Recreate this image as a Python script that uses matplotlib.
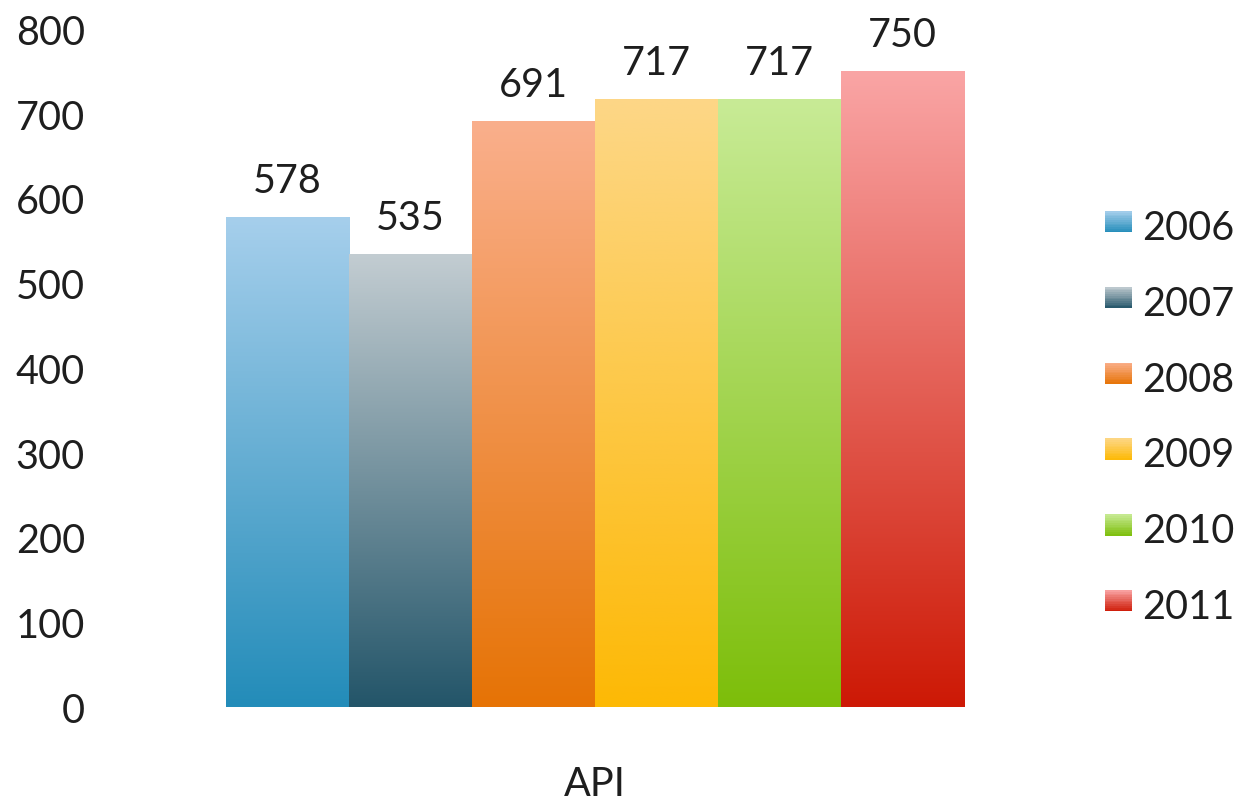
import numpy as np
import matplotlib
matplotlib.use("Agg")
import matplotlib.pyplot as plt
from matplotlib.colors import LinearSegmentedColormap, to_rgb
from matplotlib.legend_handler import HandlerBase
from matplotlib.patches import Rectangle

# Data
category = "API"
years = ["2006", "2007", "2008", "2009", "2010", "2011"]
values = [578, 535, 691, 717, 717, 750]

# Gradient end colours for each year: (top, bottom)
top_colors = ["#a6cfec", "#c3cdd2", "#faaf8c", "#fdd787", "#c8eb96", "#faa5a5"]
bottom_colors = ["#238cb9", "#235569", "#e67305", "#fdb905", "#7dbe0a", "#cd1905"]

y_ticks = [0, 100, 200, 300, 400, 500, 600, 700, 800]

plt.rcParams["font.family"] = ["Lato", "DejaVu Sans"]
text_color = "#1e1e1e"
fs = 28.5

fig = plt.figure(figsize=(12.46, 8.03), dpi=100)
ax = fig.add_axes([110 / 1246, 1 - 708 / 803, 950 / 1246, 678 / 803])

n = len(years)
width = 1.0
offsets = (np.arange(n) - (n - 1) / 2) * width

bars = ax.bar(offsets, values, width=width, color="none", edgecolor="none")


def gradient_cmap(top, bottom):
    return LinearSegmentedColormap.from_list("g", [to_rgb(bottom), to_rgb(top)])


grad = np.linspace(0, 1, 256).reshape(-1, 1)
for rect, tc, bc in zip(bars, top_colors, bottom_colors):
    x0, y0 = rect.get_x(), rect.get_y()
    w, h = rect.get_width(), rect.get_height()
    im = ax.imshow(grad, cmap=gradient_cmap(tc, bc), origin="lower",
                   extent=[x0, x0 + w, y0, y0 + h], aspect="auto",
                   interpolation="bicubic", zorder=2)
    im.set_clip_path(rect)

ax.set_xlim(-3.94, 3.78)
ax.set_ylim(0, 800)

ax.bar_label(bars, labels=[str(v) for v in values], padding=13,
             fontsize=fs, color=text_color)

ax.set_yticks(y_ticks)
ax.set_yticklabels([str(t) for t in y_ticks])
ax.set_xticks([0])
ax.set_xticklabels([category])
ax.tick_params(axis="y", length=0, pad=18, labelsize=fs, labelcolor=text_color)
ax.tick_params(axis="x", length=0, pad=42, labelsize=fs, labelcolor=text_color)
for s in ax.spines.values():
    s.set_visible(False)


class GradientHandler(HandlerBase):
    def __init__(self, top, bottom, steps=12):
        super().__init__()
        self.top = np.array(to_rgb(top))
        self.bottom = np.array(to_rgb(bottom))
        self.steps = steps

    def create_artists(self, legend, orig_handle, xdescent, ydescent,
                       width, height, fontsize, trans):
        artists = []
        sh = height / self.steps
        lift = 0.15 * height
        for i in range(self.steps):
            t = (i + 0.5) / self.steps
            c = self.bottom * (1 - t) + self.top * t
            r = Rectangle((-xdescent, -ydescent + lift + i * sh), width, sh * 1.05,
                          facecolor=c, edgecolor="none", transform=trans)
            artists.append(r)
        return artists


handles = [Rectangle((0, 0), 1, 1) for _ in years]
handler_map = {h: GradientHandler(tc, bc) for h, tc, bc in zip(handles, top_colors, bottom_colors)}
leg = fig.legend(handles, years, handler_map=handler_map,
                 loc="center left", bbox_to_anchor=(1105 / 1246, 1 - 418 / 803),
                 frameon=False, fontsize=fs, labelcolor=text_color,
                 handlelength=0.68, handleheight=0.45, handletextpad=0.25,
                 labelspacing=0.98, borderpad=0, borderaxespad=0)

fig.savefig("out.png", dpi=100, facecolor="white")
